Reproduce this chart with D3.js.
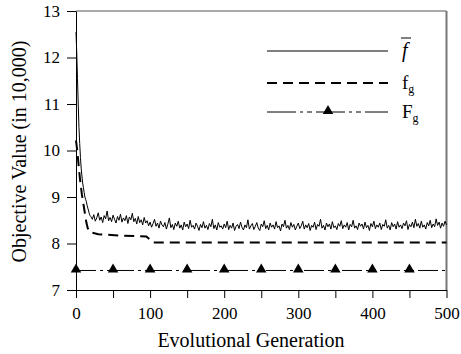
<!DOCTYPE html>
<html>
<head>
<meta charset="utf-8">
<script src="https://cdn.jsdelivr.net/npm/d3@7"></script>
<style>
  body { margin: 0; background: #fff; }
  svg text { font-family: "Liberation Serif", "Times New Roman", serif; fill: #000; }
</style>
</head>
<body>
<svg id="chart" width="461" height="354"></svg>
<script>
// mean objective value, first 20 generations one by one
const fbarEarlyGen = d3.range(0, 20);
const fbarEarly = [12.55, 12.1, 11.55, 11.0, 10.5, 10.15, 9.85, 9.62, 9.45, 9.3,
  9.2, 9.1, 9.0, 8.95, 8.9, 8.82, 8.76, 8.7, 8.64, 8.6];
// after that, every second generation (20..500)
const fbarLateGen = d3.range(20, 501, 2);
const fbarLate = [
  8.58, 8.52, 8.62, 8.48, 8.55, 8.66, 8.50, 8.57, 8.45, 8.60,
  8.53, 8.70, 8.49, 8.56, 8.47, 8.61, 8.52, 8.44, 8.58, 8.50,
  8.63, 8.46, 8.55, 8.49, 8.60, 8.43, 8.57, 8.51, 8.65, 8.47,
  8.54, 8.42, 8.58, 8.45, 8.51, 8.40, 8.56, 8.44, 8.49, 8.38,
  8.46, 8.35, 8.43, 8.52, 8.37, 8.44, 8.33, 8.48, 8.40, 8.36,
  8.45, 8.31, 8.42, 8.55, 8.34, 8.41, 8.30, 8.44, 8.37, 8.48,
  8.33, 8.40, 8.29, 8.46, 8.36, 8.42, 8.32, 8.50, 8.35, 8.39,
  8.31, 8.44, 8.37, 8.28, 8.41, 8.34, 8.47, 8.33, 8.39, 8.30,
  8.43, 8.36, 8.52, 8.32, 8.40, 8.29, 8.45, 8.35, 8.38, 8.31,
  8.42, 8.34, 8.48, 8.30, 8.39, 8.33, 8.44, 8.28, 8.37, 8.41,
  8.32, 8.46, 8.35, 8.29, 8.40, 8.34, 8.51, 8.31, 8.38, 8.43,
  8.30, 8.37, 8.45, 8.33, 8.28, 8.42, 8.36, 8.49, 8.32, 8.39,
  8.29, 8.44, 8.35, 8.40, 8.31, 8.47, 8.34, 8.38, 8.27, 8.42,
  8.36, 8.50, 8.33, 8.39, 8.30, 8.45, 8.35, 8.41, 8.29, 8.37,
  8.44, 8.32, 8.38, 8.48, 8.31, 8.40, 8.34, 8.43, 8.28, 8.39,
  8.35, 8.46, 8.30, 8.41, 8.37, 8.52, 8.33, 8.39, 8.29, 8.44,
  8.36, 8.42, 8.31, 8.47, 8.34, 8.38, 8.30, 8.43, 8.37, 8.49,
  8.32, 8.40, 8.35, 8.45, 8.29, 8.41, 8.36, 8.50, 8.33, 8.38,
  8.30, 8.44, 8.37, 8.42, 8.31, 8.46, 8.34, 8.39, 8.28, 8.43,
  8.36, 8.48, 8.32, 8.40, 8.35, 8.44, 8.30, 8.41, 8.37, 8.51,
  8.33, 8.39, 8.29, 8.45, 8.36, 8.42, 8.31, 8.47, 8.35, 8.40,
  8.32, 8.44, 8.38, 8.49, 8.30, 8.41, 8.36, 8.46, 8.34, 8.52,
  8.37, 8.43, 8.33, 8.48, 8.35, 8.40, 8.31, 8.45, 8.38, 8.50,
  8.34, 8.42, 8.36, 8.53, 8.39, 8.46, 8.33, 8.44, 8.37, 8.48,
  8.40];

// best of generation
const fgGen = [0, 2, 4, 6, 8, 10, 12, 14, 16, 18, 30, 60, 95, 98, 101, 104, 500];
const fgVal = [10.22, 9.95, 9.6, 9.3, 9.05, 8.85, 8.65, 8.45, 8.32, 8.25, 8.2, 8.17, 8.15, 8.11, 8.05, 8.02, 8.02];

// global best
const FgGen = [0, 500];
const FgVal = [7.42, 7.42];
const FgMarkers = [0, 50, 100, 150, 200, 250, 300, 350, 400, 450];

const yTicks = [7, 8, 9, 10, 11, 12, 13];
const xTicks = [0, 50, 100, 150, 200, 250, 300, 350, 400, 450, 500];

const margin = { top: 11, right: 14.5, bottom: 64, left: 76 };
const width = 461 - margin.left - margin.right;
const height = 354 - margin.top - margin.bottom;

const svg = d3.select('svg#chart');
const g = svg.append('g').attr('transform', `translate(${margin.left},${margin.top})`);

const x = d3.scaleLinear().domain([0, 500]).range([0, width]);
const y = d3.scaleLinear().domain([7, 13]).range([height, 0]);

// frame top / right
g.append('line').attr('x1', 0).attr('x2', width).attr('y1', 0).attr('y2', 0)
  .attr('stroke', '#555').attr('stroke-width', 1);
g.append('line').attr('x1', width).attr('x2', width).attr('y1', 0).attr('y2', height)
  .attr('stroke', '#777').attr('stroke-width', 2);

const line = d3.line().x(d => x(d[0])).y(d => y(d[1]));

const fbarData = fbarEarlyGen.map((gen, i) => [gen, fbarEarly[i]])
  .concat(fbarLateGen.map((gen, i) => [gen, fbarLate[i]]));
const fgData = fgGen.map((gen, i) => [gen, fgVal[i]]);
const FgData = FgGen.map((gen, i) => [gen, FgVal[i]]);

const fgDash = '10,6';
const FgDash = '20,4,3,4,3,4';

g.append('path').datum(fbarData).attr('d', line)
  .attr('fill', 'none').attr('stroke', '#000').attr('stroke-width', 1);
g.append('path').datum(fgData).attr('d', line)
  .attr('fill', 'none').attr('stroke', '#000').attr('stroke-width', 2).attr('stroke-dasharray', fgDash);
g.append('path').datum(FgData).attr('d', line)
  .attr('fill', 'none').attr('stroke', '#000').attr('stroke-width', 1).attr('stroke-dasharray', FgDash);

const tri = d3.symbol().type(d3.symbolTriangle).size(48);
g.selectAll('.marker')
  .data(FgMarkers)
  .enter()
  .append('path')
  .attr('class', 'marker')
  .attr('d', tri)
  .attr('transform', d => `translate(${x(d)},${y(7.42) - 1})`)
  .attr('fill', '#000');

// axes
const yAxis = g.append('g')
  .call(d3.axisLeft(y).tickValues(yTicks).tickSize(9).tickSizeOuter(0).tickPadding(7)
    .tickFormat(d3.format('d')));
const xAxis = g.append('g')
  .attr('transform', `translate(0,${height})`)
  .call(d3.axisBottom(x).tickValues(xTicks).tickSize(8).tickSizeOuter(0).tickPadding(9)
    .tickFormat(d => d % 100 === 0 ? d : ''));
[yAxis, xAxis].forEach(a => {
  a.selectAll('path, line').attr('stroke', '#000');
  a.selectAll('text').style('font-size', '17px').style('font-family', '"Liberation Serif", serif');
});

svg.append('text')
  .attr('x', 251).attr('y', 347)
  .attr('text-anchor', 'middle').style('font-size', '20px')
  .text('Evolutional Generation');

svg.append('text')
  .attr('transform', `translate(26,${margin.top + height / 2 + 1}) rotate(-90)`)
  .attr('text-anchor', 'middle').style('font-size', '20px')
  .text('Objective Value (in 10,000)');

// legend
const legend = svg.append('g');
const lx1 = 267, lx2 = 388, tx = 397;
const rows = [51, 83, 112];

legend.append('line').attr('x1', lx1).attr('x2', lx2).attr('y1', rows[0]).attr('y2', rows[0])
  .attr('stroke', '#000').attr('stroke-width', 1);
legend.append('line').attr('x1', lx1).attr('x2', lx2).attr('y1', rows[1]).attr('y2', rows[1])
  .attr('stroke', '#000').attr('stroke-width', 2).attr('stroke-dasharray', fgDash);
legend.append('line').attr('x1', lx1).attr('x2', lx2).attr('y1', rows[2]).attr('y2', rows[2])
  .attr('stroke', '#000').attr('stroke-width', 1).attr('stroke-dasharray', '29,4,3,4,5,4');
legend.append('path').attr('d', tri).attr('fill', '#000')
  .attr('transform', `translate(328,${rows[2] - 1})`);

const t1 = legend.append('text').attr('x', tx + 5).attr('y', rows[0] + 6).style('font-size', '20px');
t1.append('tspan').style('font-style', 'italic').text('f');
legend.append('line').attr('x1', tx + 4).attr('x2', tx + 14).attr('y1', rows[0] - 13).attr('y2', rows[0] - 13)
  .attr('stroke', '#000').attr('stroke-width', 1);

const t2 = legend.append('text').attr('x', tx + 5).attr('y', rows[1] + 6).style('font-size', '19px');
t2.append('tspan').text('f');
t2.append('tspan').attr('dy', 4).style('font-size', '12px').text('g');

const t3 = legend.append('text').attr('x', tx + 5).attr('y', rows[2] + 6).style('font-size', '19px');
t3.append('tspan').text('F');
t3.append('tspan').attr('dy', 4).style('font-size', '12px').text('g');
</script>
</body>
</html>
